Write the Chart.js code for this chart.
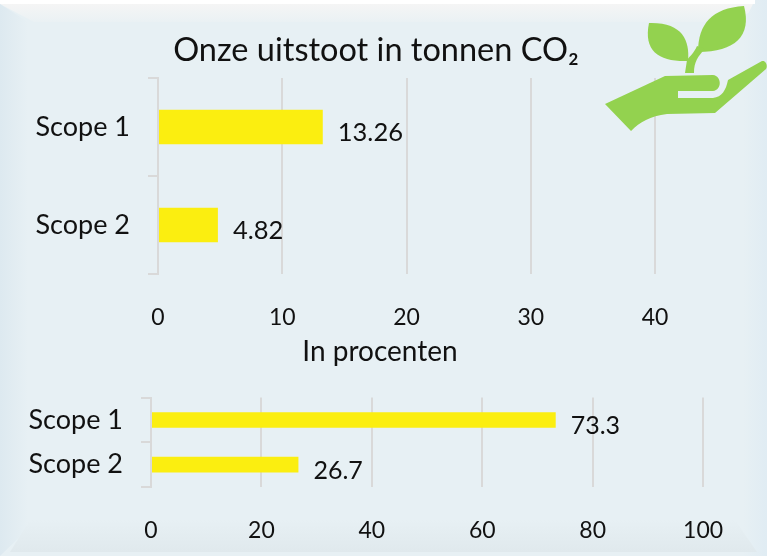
<!DOCTYPE html>
<html>
<head>
<meta charset="utf-8">
<script src="https://cdn.jsdelivr.net/npm/chart.js@4"></script>
<style>
html, body { margin: 0; padding: 0; background: #fff; }
#page { position: relative; width: 767px; height: 556px; overflow: hidden; background: #e7f0f4; }
.bevel { position: absolute; }
#bevel-top { left: 0; top: 4px; width: 767px; height: 18px; background: linear-gradient(#f5f5f5, #eaf1f4); clip-path: polygon(0 0, 100% 0, 730px 100%, 34px 100%); }
#bevel-left { left: 0; top: 4px; width: 28px; height: 552px; background: linear-gradient(90deg, #dde9f0, #e7f0f4); clip-path: polygon(0 0, 100% 18px, 100% 525px, 0 100%); }
#bevel-right { right: 0; top: 0; width: 24px; height: 556px; background: linear-gradient(90deg, #e7f0f4, #e0ecf3); clip-path: polygon(12px 0, 100% 0, 100% 100%, 0 100%, 0 24px); }
#bevel-bottom { left: 0; top: 520px; width: 767px; height: 36px; background: linear-gradient(#e7f0f4, #dfe8ec); clip-path: polygon(30px 0, 735px 0, 757px 32px, 10px 32px); }
#strip { position: absolute; left: 0; top: 0; width: 755px; height: 4px; background: #fff; }
canvas { position: absolute; left: 0; }
#c1 { top: 0; }
#c2 { top: 330px; }
#leaf { position: absolute; left: 0; top: 0; }
</style>
</head>
<body>
<div id="page">
  <div class="bevel" id="bevel-top"></div>
  <div class="bevel" id="bevel-left"></div>
  <div class="bevel" id="bevel-right"></div>
  <div class="bevel" id="bevel-bottom"></div>
  <div id="strip"></div>
  <canvas id="c1" width="752" height="335"></canvas>
  <canvas id="c2" width="760" height="226"></canvas>
  <svg id="leaf" width="767" height="140" fill="#93d24f">
    <path d="M605,104 L665,76 L713,75 C722,76 722,90 713,91 L678,91 L678,98 L713,98 C722,97 726,90 728,80 L762,61 C766,60 768,66 766,69 L715,113 L667,114 C650,116 640,122 631,131 Z"/>
    <path d="M649,23 C682,22 690,40 688,61 C660,62 643,52 649,23 Z"/>
    <path d="M744,6 C712,8 698,24 698,52 C735,52 752,36 744,6 Z"/>
    <path d="M685,73 L694,73 C694,62 698,56 705,49 L697,46 C694,53 690,56 687,60 Z"/>
  </svg>
</div>
<script>
const categories = ['Scope 1', 'Scope 2'];
const tonnenValues = [13.26, 4.82];
const procentValues = [73.3, 26.7];
const tonnenTicks = [0, 10, 20, 30, 40];
const procentTicks = [0, 20, 40, 60, 80, 100];

const fontFamily = 'Lato';
const gridColor = '#d9d9d9';
const barColor = '#fbee10';

// draws the number next to each bar, slightly below the bar centre
const valueLabels = {
    id: 'valueLabels',
    afterDatasetsDraw(chart, args, opts) {
        const ctx = chart.ctx;
        const meta = chart.getDatasetMeta(0);
        ctx.save();
        ctx.font = `${opts.size}px ${fontFamily}`;
        ctx.fillStyle = '#111';
        ctx.textBaseline = 'middle';
        meta.data.forEach((bar, i) => {
            ctx.fillText(String(chart.data.datasets[0].data[i]), bar.x + opts.dx, bar.y + opts.dy);
        });
        ctx.restore();
    }
};

function makeChart(id, values, ticks, cfg) {
    return new Chart(document.getElementById(id), {
        type: 'bar',
        data: {
            labels: categories,
            datasets: [{
                data: values,
                backgroundColor: barColor,
                barPercentage: cfg.barPercentage,
                categoryPercentage: 1
            }]
        },
        options: {
            indexAxis: 'y',
            responsive: false,
            animation: false,
            plugins: {
                legend: { display: false },
                tooltip: { enabled: false },
                title: {
                    display: true,
                    text: cfg.title,
                    color: '#111',
                    font: { family: fontFamily, size: cfg.titleSize, weight: 'normal' },
                    padding: cfg.titlePadding
                },
                valueLabels: { size: cfg.labelSize, dx: 15, dy: cfg.labelDy }
            },
            scales: {
                x: {
                    min: ticks[0],
                    // runs past the last tick, the plot leaves room on the right like the original
                    max: cfg.axisMax,
                    afterBuildTicks: axis => { axis.ticks = ticks.map(v => ({ value: v })); },
                    afterFit: axis => { axis.height = cfg.xHeight; },
                    border: { display: false },
                    grid: { color: gridColor, lineWidth: 2, drawTicks: false },
                    ticks: { color: '#111', font: { family: fontFamily, size: cfg.tickSize }, padding: cfg.tickPadding, maxRotation: 0 }
                },
                y: {
                    afterFit: axis => { axis.width = cfg.yWidth; },
                    border: { color: gridColor, width: 2 },
                    grid: { color: gridColor, lineWidth: 2, drawOnChartArea: false, offset: true, tickLength: 10 },
                    ticks: { color: '#111', font: { family: fontFamily, size: cfg.catSize }, padding: 18 }
                }
            }
        },
        plugins: [valueLabels]
    });
}

makeChart('c1', tonnenValues, tonnenTicks, {
    title: 'Onze uitstoot in tonnen CO₂',
    titleSize: 32.5, titlePadding: { top: 31, bottom: 8 },
    axisMax: 47.8, yWidth: 158, xHeight: 61, barPercentage: 0.35,
    tickSize: 23, catSize: 27, tickPadding: 30, labelSize: 25.5, labelDy: 6
});

makeChart('c2', procentValues, procentTicks, {
    title: 'In procenten',
    titleSize: 28, titlePadding: { top: 5, bottom: 29 },
    axisMax: 110.3, yWidth: 151, xHeight: 69, barPercentage: 0.35,
    tickSize: 23, catSize: 27, tickPadding: 30, labelSize: 25, labelDy: 6
});
</script>
</body>
</html>
